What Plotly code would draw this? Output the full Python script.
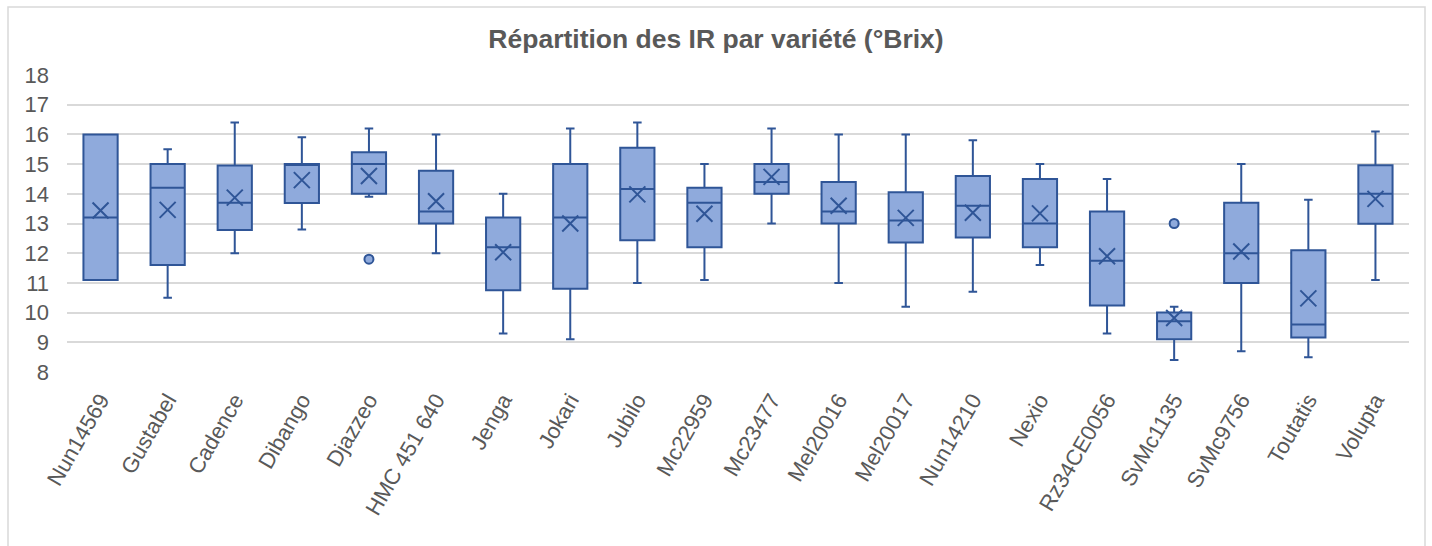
import plotly.graph_objects as go

categories = ["Nun14569", "Gustabel", "Cadence", "Dibango", "Djazzeo", "HMC 451 640",
              "Jenga", "Jokari", "Jubilo", "Mc22959", "Mc23477", "Mel20016", "Mel20017",
              "Nun14210", "Nexio", "Rz34CE0056", "SvMc1135", "SvMc9756", "Toutatis", "Volupta"]
lower_whisker = [11.1, 10.5, 12.0, 12.8, 13.9, 12.0, 9.3, 9.1, 11.0, 11.1, 13.0, 11.0, 10.2,
                 10.7, 11.6, 9.3, 8.4, 8.7, 8.5, 11.1]
q1_values = [11.1, 11.6, 12.78, 13.69, 14.0, 13.0, 10.75, 10.8, 12.44, 12.2, 14.0, 13.0, 12.36,
             12.53, 12.2, 10.24, 9.1, 11.0, 9.16, 12.99]
median_values = [13.2, 14.2, 13.7, 15.0, 15.0, 13.4, 12.2, 13.2, 14.16, 13.7, 14.4, 13.4, 13.1,
                 13.6, 13.0, 11.75, 9.71, 12.0, 9.6, 14.0]
q3_values = [16.0, 15.0, 14.95, 15.0, 15.4, 14.78, 13.2, 15.0, 15.55, 14.2, 15.0, 14.4, 14.05,
             14.6, 14.5, 13.4, 10.0, 13.7, 12.1, 14.96]
upper_whisker = [16.0, 15.5, 16.4, 15.9, 16.2, 16.0, 14.0, 16.2, 16.4, 15.0, 16.2, 16.0, 16.0,
                 15.8, 15.0, 14.5, 10.2, 15.0, 13.8, 16.1]
mean_values = [13.44, 13.46, 13.87, 14.46, 14.6, 13.75, 12.03, 13.0, 13.98, 13.33, 14.57, 13.6,
               13.19, 13.36, 13.34, 11.9, 9.82, 12.06, 10.48, 13.83]
outlier_categories = ["Djazzeo", "SvMc1135"]
outlier_values = [11.8, 13.0]
y_ticks = [8, 9, 10, 11, 12, 13, 14, 15, 16, 17, 18]

FILL = "#8FAADC"
LINE = "#2F5597"
GRID = "#D9D9D9"
TEXT = "#595959"
FONT = "Liberation Sans, Arial, sans-serif"

fig = go.Figure()
fig.add_trace(go.Box(
    x=categories, q1=q1_values, median=median_values, q3=q3_values,
    lowerfence=lower_whisker, upperfence=upper_whisker,
    boxpoints=False, fillcolor=FILL, line=dict(color=LINE, width=2),
    whiskerwidth=0.25, width=0.51, showlegend=False, hoverinfo="skip",
))
fig.add_trace(go.Scatter(
    x=categories, y=mean_values, mode="markers", showlegend=False,
    marker=dict(symbol="x-thin", size=16, line=dict(color=LINE, width=2), color=LINE),
))
fig.add_trace(go.Scatter(
    x=outlier_categories, y=outlier_values, mode="markers", showlegend=False,
    marker=dict(symbol="circle", size=9, color=FILL, line=dict(color=LINE, width=2)),
))

L, R, T, B = 67, 23, 75, 174
W, H = 1432, 546
pw, ph = W - L - R, H - T - B
fig.add_shape(type="rect", xref="paper", yref="paper",
              x0=(8 - L) / pw, x1=(1425 - L) / pw,
              y0=(H - B - 560) / ph, y1=(H - B - 7) / ph,
              line=dict(color=GRID, width=1.5), fillcolor="rgba(0,0,0,0)", layer="below")

fig.update_layout(
    width=W, height=H, margin=dict(l=L, r=R, t=T, b=B),
    paper_bgcolor="white", plot_bgcolor="white",
    title=dict(text="<b>Répartition des IR par variété (°Brix)</b>", x=0.5, xref="container",
               xanchor="center", y=1 - 39 / H, yanchor="middle",
               font=dict(family=FONT, size=26.5, color=TEXT)),
    font=dict(family=FONT, color=TEXT),
    xaxis=dict(type="category", categoryorder="array", categoryarray=categories,
               range=[-0.5, len(categories) - 0.5],
               tickangle=-60, tickfont=dict(size=22, color=TEXT), showgrid=False,
               showline=False, zeroline=False, ticks="", ticklabelstandoff=10),
    yaxis=dict(range=[8, 18], tickvals=y_ticks, tickfont=dict(size=22, color=TEXT),
               showgrid=True, gridcolor=GRID, gridwidth=1.5, zeroline=False,
               showline=False, ticks="", ticklabelstandoff=17),
)

fig.write_html("out.html", config={"displayModeBar": False},
               post_script="document.body.style.margin='0';")
